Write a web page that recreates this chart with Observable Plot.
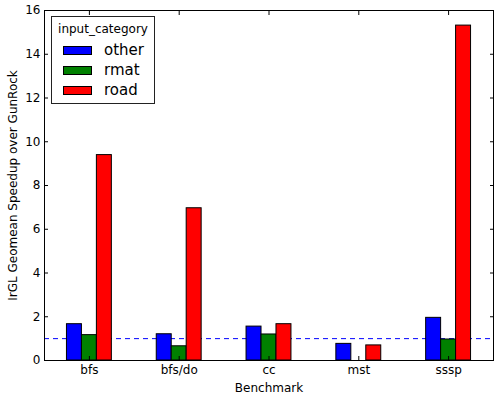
<!DOCTYPE html>
<html><head><meta charset="utf-8">
<script src="https://cdn.jsdelivr.net/npm/d3@7"></script>
<script src="https://cdn.jsdelivr.net/npm/@observablehq/plot@0.6"></script>
<style>
body{margin:0;background:#fff;font-family:"DejaVu Sans",sans-serif;}
#wrap{position:relative;width:495px;height:396px;}
#legend{position:absolute;left:51px;top:16px;width:104px;height:88px;border:1px solid #222;background:#fff;box-sizing:border-box;font-family:"DejaVu Sans",sans-serif;}
#legend .t{position:absolute;left:0;width:100%;top:5px;text-align:center;font-size:12px;line-height:14px;}
#legend .p{position:absolute;left:11px;width:29px;height:9px;border:1px solid #000;box-sizing:border-box;}
#legend .l{position:absolute;left:52px;font-size:15px;line-height:18px;}
</style></head><body><div id="wrap"></div>
<script>
const benchmarks = ["bfs", "bfs/do", "cc", "mst", "sssp"];
const seriesNames = ["other", "rmat", "road"];
const seriesColors = ["#0000ff", "#008000", "#ff0000"];
const other = [1.66, 1.20, 1.55, 0.76, 1.95];
const rmat = [1.16, 0.65, 1.19, NaN, 0.96];
const road = [9.39, 6.96, 1.66, 0.69, 15.31];
const yTicks = [0, 2, 4, 6, 8, 10, 12, 14, 16];
const baseline = [1];
const yLabel = "IrGL Geomean Speedup over GunRock";
const xLabel = "Benchmark";
const legendTitle = "input_category";

const seriesValues = [other, rmat, road];
const barWidth = 0.5 / seriesNames.length;
const data = [];
benchmarks.forEach((b, i) => {
  seriesNames.forEach((s, j) => {
    const v = seriesValues[j][i];
    if (Number.isFinite(v)) {
      const x1 = i - 0.25 + j * barWidth;
      data.push({benchmark: b, series: s, value: v, x1, x2: x1 + barWidth});
    }
  });
});
const xIdx = benchmarks.map((_, i) => i);

const chart = Plot.plot({
  width: 495,
  height: 396,
  marginLeft: 44,
  marginRight: 2,
  marginTop: 10,
  marginBottom: 36,
  style: {fontFamily: "DejaVu Sans, sans-serif", fontSize: "12px", color: "black", background: "white"},
  x: {domain: [-0.5, 4.5]},
  y: {domain: [0, 16]},
  color: {domain: seriesNames, range: seriesColors},
  marks: [
    Plot.ruleY(baseline, {stroke: "#0000ff", strokeDasharray: "5,4", strokeWidth: 1}),
    Plot.rectY(data, {x1: "x1", x2: "x2", y1: 0, y2: "value", fill: "series", stroke: "black", strokeWidth: 1}),
    Plot.axisY(yTicks, {anchor: "left", tickSize: -4, tickPadding: 8, fontSize: 12, label: null}),
    Plot.axisY(yTicks, {anchor: "right", tickSize: -4, tickFormat: () => "", label: null}),
    Plot.axisX(xIdx, {anchor: "bottom", tickSize: -4, tickPadding: 9, tickFormat: i => benchmarks[i], fontSize: 12, label: null}),
    Plot.axisX(xIdx, {anchor: "top", tickSize: -4, tickFormat: () => "", label: null}),
    Plot.frame({stroke: "black", strokeWidth: 1}),
    Plot.text([yLabel], {text: d => d, frameAnchor: "left", textAnchor: "middle", dx: -31, rotate: -90, fontSize: 12, fill: "black"}),
    Plot.text([xLabel], {text: d => d, frameAnchor: "bottom", dy: 22.5, lineAnchor: "top", fontSize: 12, fill: "black"})
  ]
});
const wrap = document.getElementById("wrap");
wrap.appendChild(chart);

const leg = document.createElement("div");
leg.id = "legend";
const t = document.createElement("div");
t.className = "t";
t.textContent = legendTitle;
leg.appendChild(t);
seriesNames.forEach((s, j) => {
  const p = document.createElement("div");
  p.className = "p";
  p.style.top = (29 + j * 20) + "px";
  p.style.background = seriesColors[j];
  leg.appendChild(p);
  const l = document.createElement("div");
  l.className = "l";
  l.style.top = (24 + j * 20) + "px";
  l.textContent = s;
  leg.appendChild(l);
});
wrap.appendChild(leg);
</script>
</body></html>
